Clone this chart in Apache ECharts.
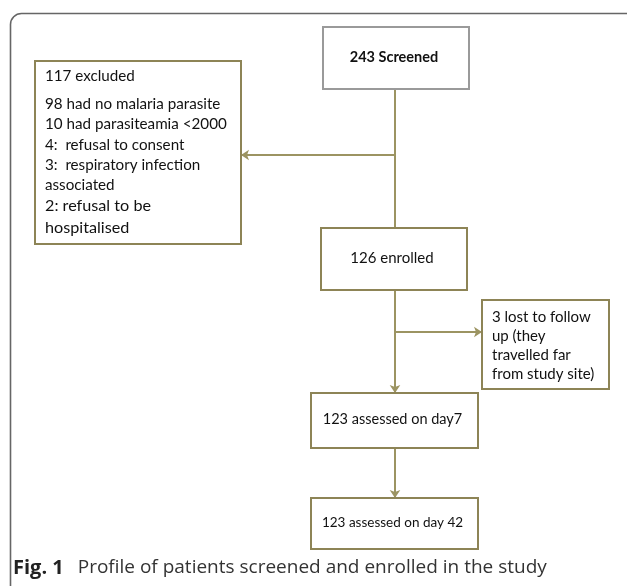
<!DOCTYPE html>
<html><head><meta charset="utf-8">
<script src="https://cdn.jsdelivr.net/npm/echarts@6.0.0/dist/echarts.min.js"></script>
<style>html,body{margin:0;padding:0;background:#fff}#c{width:627px;height:586px}</style>
</head><body><div id="c"></div>
<script>
// ---- flowchart content ----
const nodeNames = ['screened', 'excluded', 'enrolled', 'lost', 'day7', 'day42'];
const nodeText = [
  ['243 Screened'],
  ['117 excluded', '', '98 had no malaria parasite', '10 had parasiteamia <2000', '4:  refusal to consent',
   '3:  respiratory infection', 'associated', '2: refusal to be', 'hospitalised'],
  ['126 enrolled'],
  ['3 lost to follow', 'up (they', 'travelled far', 'from study site)'],
  ['123 assessed on day7'],
  ['123 assessed on day 42']
];
// box extents in the chart's (page-like) coordinate system: [x0, y0, x1, y1]
const nodeBox = [
  [323, 27, 469, 89],
  [35, 61, 241, 244],
  [321, 228, 467, 290],
  [482, 300, 609, 389],
  [311, 393, 478, 448],
  [311, 498, 478, 549]
];
// connectors
const plainLinks = [[[395, 89], [395, 228]]];
const arrowLinks = [
  [[395, 155], [241, 155]],
  [[395, 290], [395, 393]],
  [[395, 332], [482, 332]],
  [[395, 448], [395, 498]]
];
const captionLabel = 'Fig. 1';
const captionText = 'Profile of patients screened and enrolled in the study';

const OLIVE = '#8d8456';
const LINE = '#9c9462';
const FONT = 'Lato, "Open Sans", sans-serif';

function renderNode(params, api) {
  const i = api.value(4);
  const p0 = api.coord([api.value(0), api.value(1)]);
  const p1 = api.coord([api.value(2), api.value(3)]);
  const x = p0[0], y = p0[1], w = p1[0] - p0[0], h = p1[1] - p0[1];
  const name = nodeNames[i];
  const lines = nodeText[i];
  const children = [{
    type: 'rect',
    shape: { x: x, y: y, width: w, height: h },
    style: { fill: '#fff', stroke: name === 'screened' ? '#9a9a9a' : OLIVE, lineWidth: 2 }
  }];
  if (lines.length === 1) {
    children.push({
      type: 'text',
      style: {
        x: x + w / 2 - 2, y: y + h / 2 - 1, text: lines[0], align: 'center', verticalAlign: 'middle',
        font: (name === 'screened' ? 'bold 14.5px ' : (name === 'day42' ? '13.5px ' : (name === 'enrolled' ? '15px ' : '14.5px '))) + FONT,
        fill: '#111'
      }
    });
  } else if (name === 'excluded') {
    const rich = {
      a: { fontSize: 15.2, lineHeight: 20.2, fontFamily: FONT, fill: '#111' },
      g: { fontSize: 4, lineHeight: 8 },
      b: { fontSize: 16.2, lineHeight: 22, fontFamily: FONT, fill: '#111' }
    };
    const txt = lines.map((s, k) => s === '' ? '{g| }' : (k >= 7 ? '{b|' + s + '}' : '{a|' + s + '}')).join('\n');
    children.push({
      type: 'text',
      style: { x: x + 10, y: y + 5, text: txt, rich: rich, align: 'left', verticalAlign: 'top', fill: '#111' }
    });
  } else {
    children.push({
      type: 'text',
      style: {
        x: x + 10, y: y + 7.5, text: lines.join('\n'), align: 'left', verticalAlign: 'top',
        font: '15px ' + FONT, lineHeight: 19, fill: '#111'
      }
    });
  }
  return { type: 'group', children: children };
}

const chart = echarts.init(document.getElementById('c'), null, { renderer: 'canvas' });
chart.setOption({
  backgroundColor: '#fff',
  animation: false,
  grid: { left: 0, right: 0, top: 0, bottom: 0 },
  xAxis: { type: 'value', min: 0, max: 627, show: false },
  yAxis: { type: 'value', min: 0, max: 586, inverse: true, show: false },
  graphic: [{
    type: 'rect', left: 8, top: 11, shape: { width: 640, height: 620, r: 11 },
    style: { fill: 'none', stroke: '#666', lineWidth: 1.6 }, z: 0
  }, {
    type: 'text', left: 13, top: 558,
    style: {
      text: '{b|' + captionLabel + '}{s| }{n|' + captionText + '}',
      rich: {
        b: { font: 'bold 20px "Open Sans", sans-serif', fill: '#222' },
        s: { width: 14 },
        n: { font: '19px "Open Sans", sans-serif', fill: '#333' }
      }
    }
  }],
  series: [{
    type: 'lines', coordinateSystem: 'cartesian2d', polyline: false, z: 2,
    symbol: ['none', 'none'],
    lineStyle: { color: LINE, width: 2, opacity: 1 },
    data: plainLinks.map(c => ({ coords: c }))
  }, {
    type: 'lines', coordinateSystem: 'cartesian2d', polyline: false, z: 2,
    symbol: ['none', 'arrow'], symbolSize: 8,
    lineStyle: { color: LINE, width: 2, opacity: 1 },
    data: arrowLinks.map(c => ({ coords: c }))
  }, {
    type: 'custom', coordinateSystem: 'cartesian2d', z: 3,
    renderItem: renderNode,
    data: nodeBox.map((b, i) => [b[0], b[1], b[2], b[3], i])
  }]
});
</script></body></html>
